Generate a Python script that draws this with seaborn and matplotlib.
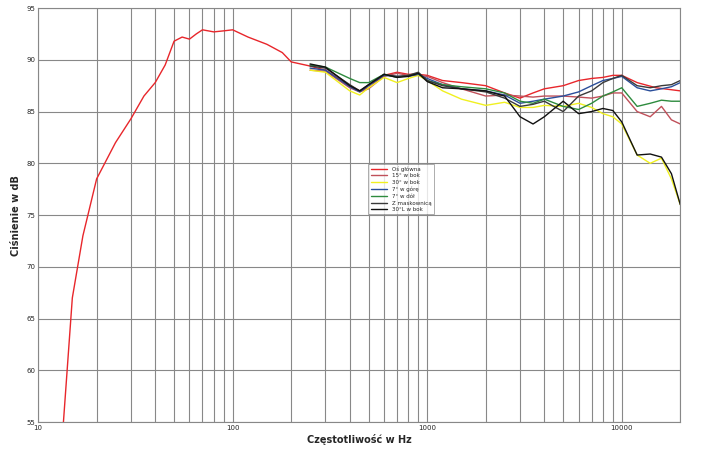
import matplotlib
matplotlib.use("Agg")
import matplotlib.pyplot as plt
import seaborn as sns
import pandas as pd
import numpy as np
from matplotlib.ticker import FixedLocator, NullFormatter

sns.set_style("white")
plt.rcParams['font.family'] = ['DejaVu Sans']

main_f = [13.5,15,17,20,25,30,35,40,45,50,55,60,65,70,80,90,100,120,150,180,200,250,300,400,450,500,600,700,800,900,1000,1200,1500,2000,2500,3000,3500,4000,5000,6000,7000,8000,9000,10000,12000,15000,20000]
main_db = [55,67,73,78.5,82,84.3,86.5,87.8,89.5,91.8,92.2,92.0,92.5,92.9,92.7,92.8,92.9,92.2,91.5,90.7,89.8,89.4,89.0,87.5,87.0,87.3,88.5,88.8,88.6,88.6,88.5,88.0,87.8,87.5,86.8,86.3,86.8,87.2,87.5,88.0,88.2,88.3,88.5,88.5,87.8,87.3,87.0]

f = [250,300,400,450,500,600,700,800,900,1000,1200,1500,2000,2500,3000,3500,4000,5000,6000,7000,8000,9000,10000,12000,14000,16000,18000,20000]
db15 = [89.0,88.9,87.3,86.9,87.2,88.4,88.7,88.5,88.5,88.4,87.8,87.2,86.5,86.6,86.5,86.4,86.5,86.5,86.4,86.3,86.5,86.8,86.8,85.0,84.5,85.5,84.2,83.8]
db30 = [89.0,88.8,87.0,86.6,87.3,88.3,87.8,88.2,88.5,88.0,87.0,86.2,85.6,85.9,85.4,85.4,85.6,85.5,85.8,85.4,84.8,84.5,83.8,80.8,80.0,80.5,78.5,76.0]
db7up = [89.2,89.0,87.4,86.9,87.5,88.5,88.4,88.4,88.6,88.2,87.6,87.2,87.0,86.6,85.8,86.0,86.2,86.5,86.9,87.5,88.0,88.2,88.4,87.3,87.0,87.2,87.4,87.8]
db7down = [89.5,89.3,88.2,87.8,87.8,88.6,88.3,88.5,88.7,88.0,87.6,87.4,87.2,86.8,86.0,85.8,86.2,85.5,85.2,85.8,86.5,86.9,87.3,85.5,85.8,86.1,86.0,86.0]
dbgrill = [89.4,89.2,87.6,87.0,87.6,88.6,88.4,88.5,88.8,88.0,87.5,87.2,86.9,86.3,85.5,85.7,86.0,85.0,86.5,87.0,87.8,88.2,88.5,87.5,87.3,87.5,87.6,88.0]
db30L = [89.6,89.3,87.5,87.0,87.6,88.6,88.3,88.4,88.7,87.9,87.3,87.2,87.0,86.5,84.5,83.8,84.5,86.0,84.8,85.0,85.3,85.1,84.0,80.8,80.9,80.6,79.0,76.0]

labels = ["Oś główna","15° w bok","30° w bok","7° w górę","7° w dół","Z maskownicą","30°L w bok"]
colors = ["#e8262b","#c0505a","#f0f020","#2a4e9a","#2e8b3e","#3a3a3a","#111111"]

rows = [pd.DataFrame({"f":main_f,"db":main_db,"s":labels[0]})]
for lab, d in zip(labels[1:], [db15,db30,db7up,db7down,dbgrill,db30L]):
    rows.append(pd.DataFrame({"f":f,"db":d,"s":lab}))
df = pd.concat(rows)

fig = plt.figure(figsize=(7.05,4.49), dpi=100)
ax = fig.add_axes([0.054,0.06,0.911,0.922])
sns.lineplot(data=df, x="f", y="db", hue="s", hue_order=labels, palette=colors, linewidth=1.0, ax=ax, sort=True)
ax.set_xscale("log")
ax.set_xlim(10,20000)
ax.set_ylim(55,95)
minors = [m*10**e for e in range(1,5) for m in range(2,10) if m*10**e<=20000]
ax.xaxis.set_minor_locator(FixedLocator(minors))
ax.xaxis.set_minor_formatter(NullFormatter())
ax.set_xticks([10,100,1000,10000]); ax.set_xticklabels(["10","100","1000","10000"])
ax.set_yticks(range(55,96,5))
ax.grid(True, which="both", color="#888888", linewidth=0.8)
ax.tick_params(labelsize=5, length=0, pad=2)
for s in ax.spines.values():
    s.set_color("#888888")
ax.set_xlabel("Częstotliwość w Hz", fontsize=7, fontweight="bold", labelpad=2)
ax.set_ylabel("Ciśnienie w dB", fontsize=7, fontweight="bold", labelpad=4)
leg = ax.legend(loc="upper left", bbox_to_anchor=(0.51,0.63), fontsize=4, frameon=True, fancybox=False,
                edgecolor="#888888", handlelength=3, labelspacing=0.3, borderpad=0.4)
leg.get_frame().set_linewidth(0.6)
fig.savefig("out.png", dpi=100)
